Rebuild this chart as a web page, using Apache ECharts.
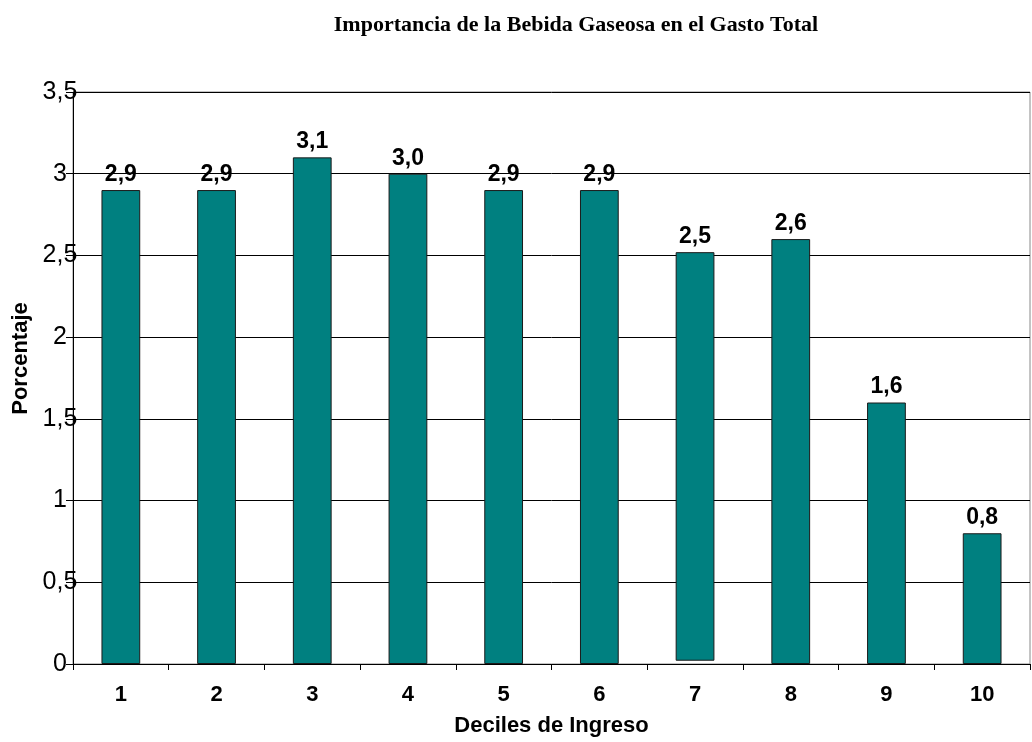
<!DOCTYPE html>
<html>
<head>
<meta charset="utf-8">
<script src="https://cdn.jsdelivr.net/npm/echarts@6/dist/echarts.min.js"></script>
<style>
html,body{margin:0;padding:0;background:#fff;}
#chart{width:1032px;height:742px;}
</style>
</head>
<body>
<div id="chart"></div>
<script>
var categories = ['1','2','3','4','5','6','7','8','9','10'];
var baseValues = [0, 0, 0, 0, 0, 0, 0.02, 0, 0, 0];
var values = [2.9, 2.9, 3.1, 3.0, 2.9, 2.9, 2.5, 2.6, 1.6, 0.8];
var yTicks = [0, 0.5, 1, 1.5, 2, 2.5, 3, 3.5];

var chart = echarts.init(document.getElementById('chart'), null, {renderer: 'canvas'});
var fmt = function (v) { return String(v).replace('.', ','); };
chart.setOption({
  animation: false,
  backgroundColor: '#fff',
  title: {
    text: 'Importancia de la Bebida Gaseosa en el Gasto Total',
    left: 571, top: 9, textAlign: 'center',
    textStyle: {fontFamily: 'Liberation Serif', fontWeight: 'bold', fontSize: 22, color: '#000'}
  },
  grid: {left: 73, right: 2, top: 92, bottom: 77, show: true, borderColor: '#888', borderWidth: 1},
  xAxis: {
    type: 'category', data: categories,
    name: 'Deciles de Ingreso', nameLocation: 'middle', nameGap: 51,
    nameTextStyle: {fontFamily: 'Liberation Sans', fontWeight: 'bold', fontSize: 22, color: '#000'},
    axisLine: {lineStyle: {color: '#000', width: 1}},
    axisTick: {show: true, length: 6, lineStyle: {color: '#000'}},
    axisLabel: {fontFamily: 'Liberation Sans', fontWeight: 'bold', fontSize: 22, color: '#000', margin: 20}
  },
  yAxis: {
    type: 'value', min: yTicks[0], max: yTicks[yTicks.length - 1], interval: 0.5,
    name: 'Porcentaje', nameLocation: 'middle', nameGap: 37, nameRotate: 90,
    nameTextStyle: {fontFamily: 'Liberation Sans', fontWeight: 'bold', fontSize: 22, color: '#000', padding: [0, 0, 0, 39]},
    axisLine: {show: true, lineStyle: {color: '#000', width: 1}},
    axisTick: {show: true, length: 7, lineStyle: {color: '#000'}},
    axisLabel: {fontFamily: 'Liberation Sans', fontSize: 25, color: '#000', margin: 13, align: 'center', formatter: fmt},
    splitLine: {show: true, lineStyle: {color: '#000', width: 1}}
  },
  series: [
    {
      type: 'bar', stack: 's', data: baseValues, barWidth: '40.5%',
      itemStyle: {color: 'rgba(0,0,0,0)', borderWidth: 0}, silent: true
    },
    {
      type: 'bar', stack: 's', data: values, barWidth: '40.5%',
      itemStyle: {color: '#008080', borderColor: '#1a1a1a', borderWidth: 1},
      label: {
        show: true, position: 'top', distance: 4,
        fontFamily: 'Liberation Sans', fontWeight: 'bold', fontSize: 23, color: '#000',
        formatter: function (p) { return p.value.toFixed(1).replace('.', ','); }
      }
    }
  ]
});
</script>
</body>
</html>
